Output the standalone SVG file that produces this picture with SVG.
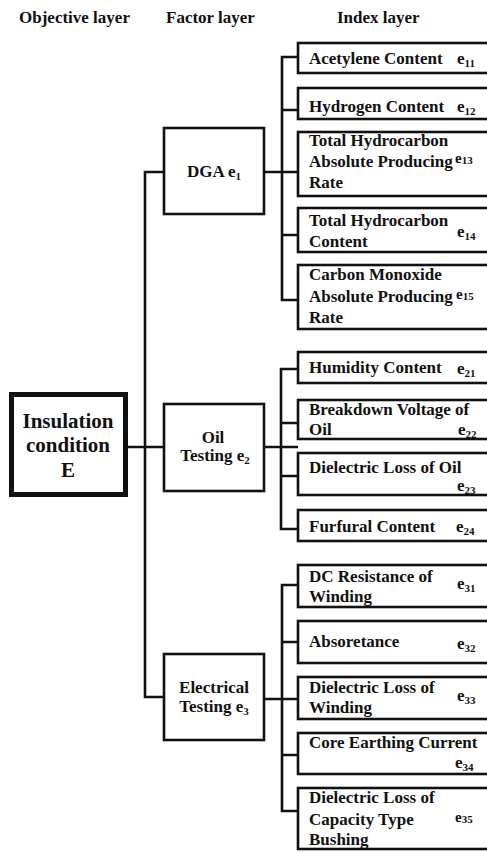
<svg xmlns="http://www.w3.org/2000/svg" width="487" height="852" viewBox="0 0 487 852">
<style>
.hd,.idx,.fac,.obj,.sm{font-family:"Liberation Serif","Times New Roman",serif;font-weight:bold;fill:#111}
.hd{font-size:17px}
.idx{font-size:17px}
.fac{font-size:17px;text-anchor:middle}
.obj{font-size:21px;text-anchor:middle}
.sub{font-size:11px}
.sm{font-size:15px}
.box{fill:#fff;stroke:#111;stroke-width:2.6}
.mainbox{fill:#fff;stroke:#111;stroke-width:5}
.conn{fill:none;stroke:#111;stroke-width:2.6}
</style>
<rect width="487" height="852" fill="#fff"/>
<g id="headers" font-family="Liberation Serif, Times New Roman, serif">
<text class="hd" x="19" y="23">Objective layer</text>
<text class="hd" x="166" y="23">Factor layer</text>
<text class="hd" x="337" y="23">Index layer</text>
</g>
<g id="connectors">
<path class="conn" d="M164,172H145V697H164M128,447H164"/>
<path class="conn" d="M264,172H298M298,57H282V300H298M282,110H298M282,235H298"/>
<path class="conn" d="M264,447H298M298,369H281V529H298M281,423H298M281,476H298"/>
<path class="conn" d="M264,699H298M298,585H282V811H298M282,642H298M282,755H298"/>
</g>
<g font-family="Liberation Serif, Times New Roman, serif">
<g id="E">
<rect class="mainbox" x="11.5" y="394.5" width="114" height="100"/>
<text class="obj" x="68" y="428">Insulation</text>
<text class="obj" x="68" y="452">condition</text>
<text class="obj" x="68" y="477">E</text>
</g>
<g id="e1">
<rect class="box" x="164" y="128" width="100" height="86"/>
<text class="fac" x="214" y="177">DGA e<tspan class="sub" dy="3">1</tspan></text>
</g>
<g id="e2">
<rect class="box" x="164" y="404" width="100" height="87"/>
<text class="fac" x="213" y="443">Oil</text>
<text class="fac" x="215" y="461">Testing e<tspan class="sub" dy="3">2</tspan></text>
</g>
<g id="e3">
<rect class="box" x="164" y="654" width="100" height="86"/>
<text class="fac" x="214" y="693">Electrical</text>
<text class="fac" x="214" y="712">Testing e<tspan class="sub" dy="3">3</tspan></text>
</g>
<g id="e11">
<rect class="box" x="298" y="43" width="200" height="30"/>
<text class="idx" x="309" y="64">Acetylene Content</text>
<text class="idx" x="457" y="64">e<tspan class="sub" dy="3">11</tspan></text>
</g>
<g id="e12">
<rect class="box" x="298" y="88" width="200" height="31"/>
<text class="idx" x="309" y="112">Hydrogen Content</text>
<text class="idx" x="457" y="112">e<tspan class="sub" dy="3">12</tspan></text>
</g>
<g id="e13">
<rect class="box" x="298" y="132" width="200" height="64"/>
<text class="idx" x="309" y="146">Total Hydrocarbon</text>
<text class="idx" x="309" y="167">Absolute Producing</text>
<text class="idx" x="309" y="188">Rate</text>
<text class="sm" x="455" y="163">e<tspan class="sub" dy="1">13</tspan></text>
</g>
<g id="e14">
<rect class="box" x="298" y="208" width="200" height="44"/>
<text class="idx" x="309" y="226">Total Hydrocarbon</text>
<text class="idx" x="309" y="247">Content</text>
<text class="idx" x="457" y="237">e<tspan class="sub" dy="3">14</tspan></text>
</g>
<g id="e15">
<rect class="box" x="298" y="265" width="200" height="64"/>
<text class="idx" x="309" y="280">Carbon Monoxide</text>
<text class="idx" x="309" y="302">Absolute Producing</text>
<text class="idx" x="309" y="323">Rate</text>
<text class="sm" x="456" y="299">e<tspan class="sub" dy="1">15</tspan></text>
</g>
<g id="e21">
<rect class="box" x="298" y="352" width="200" height="31"/>
<text class="idx" x="309" y="373">Humidity Content</text>
<text class="idx" x="457" y="374">e<tspan class="sub" dy="3">21</tspan></text>
</g>
<g id="e22">
<rect class="box" x="298" y="400" width="200" height="39"/>
<text class="idx" x="309" y="415">Breakdown Voltage of</text>
<text class="idx" x="309" y="435">Oil</text>
<text class="idx" x="458" y="435">e<tspan class="sub" dy="3">22</tspan></text>
</g>
<g id="e23">
<rect class="box" x="298" y="453" width="200" height="42"/>
<text class="idx" x="309" y="473">Dielectric Loss of Oil</text>
<text class="idx" x="457" y="491">e<tspan class="sub" dy="3">23</tspan></text>
</g>
<g id="e24">
<rect class="box" x="298" y="510" width="200" height="31"/>
<text class="idx" x="309" y="532">Furfural Content</text>
<text class="idx" x="456" y="532">e<tspan class="sub" dy="3">24</tspan></text>
</g>
<g id="e31">
<rect class="box" x="298" y="565" width="200" height="42"/>
<text class="idx" x="309" y="582">DC Resistance of</text>
<text class="idx" x="309" y="602">Winding</text>
<text class="idx" x="457" y="589">e<tspan class="sub" dy="3">31</tspan></text>
</g>
<g id="e32">
<rect class="box" x="298" y="621" width="200" height="42"/>
<text class="idx" x="309" y="647">Absoretance</text>
<text class="idx" x="457" y="649">e<tspan class="sub" dy="3">32</tspan></text>
</g>
<g id="e33">
<rect class="box" x="298" y="677" width="200" height="42"/>
<text class="idx" x="309" y="693">Dielectric Loss of</text>
<text class="idx" x="309" y="713">Winding</text>
<text class="idx" x="457" y="701">e<tspan class="sub" dy="3">33</tspan></text>
</g>
<g id="e34">
<rect class="box" x="298" y="733" width="200" height="41"/>
<text class="idx" x="309" y="748">Core Earthing Current</text>
<text class="idx" x="455" y="768">e<tspan class="sub" dy="3">34</tspan></text>
</g>
<g id="e35">
<rect class="box" x="298" y="788" width="200" height="61"/>
<text class="idx" x="309" y="803">Dielectric Loss of</text>
<text class="idx" x="309" y="825">Capacity Type</text>
<text class="idx" x="309" y="845">Bushing</text>
<text class="sm" x="455" y="822">e<tspan class="sub" dy="1">35</tspan></text>
</g>
</g>
</svg>
